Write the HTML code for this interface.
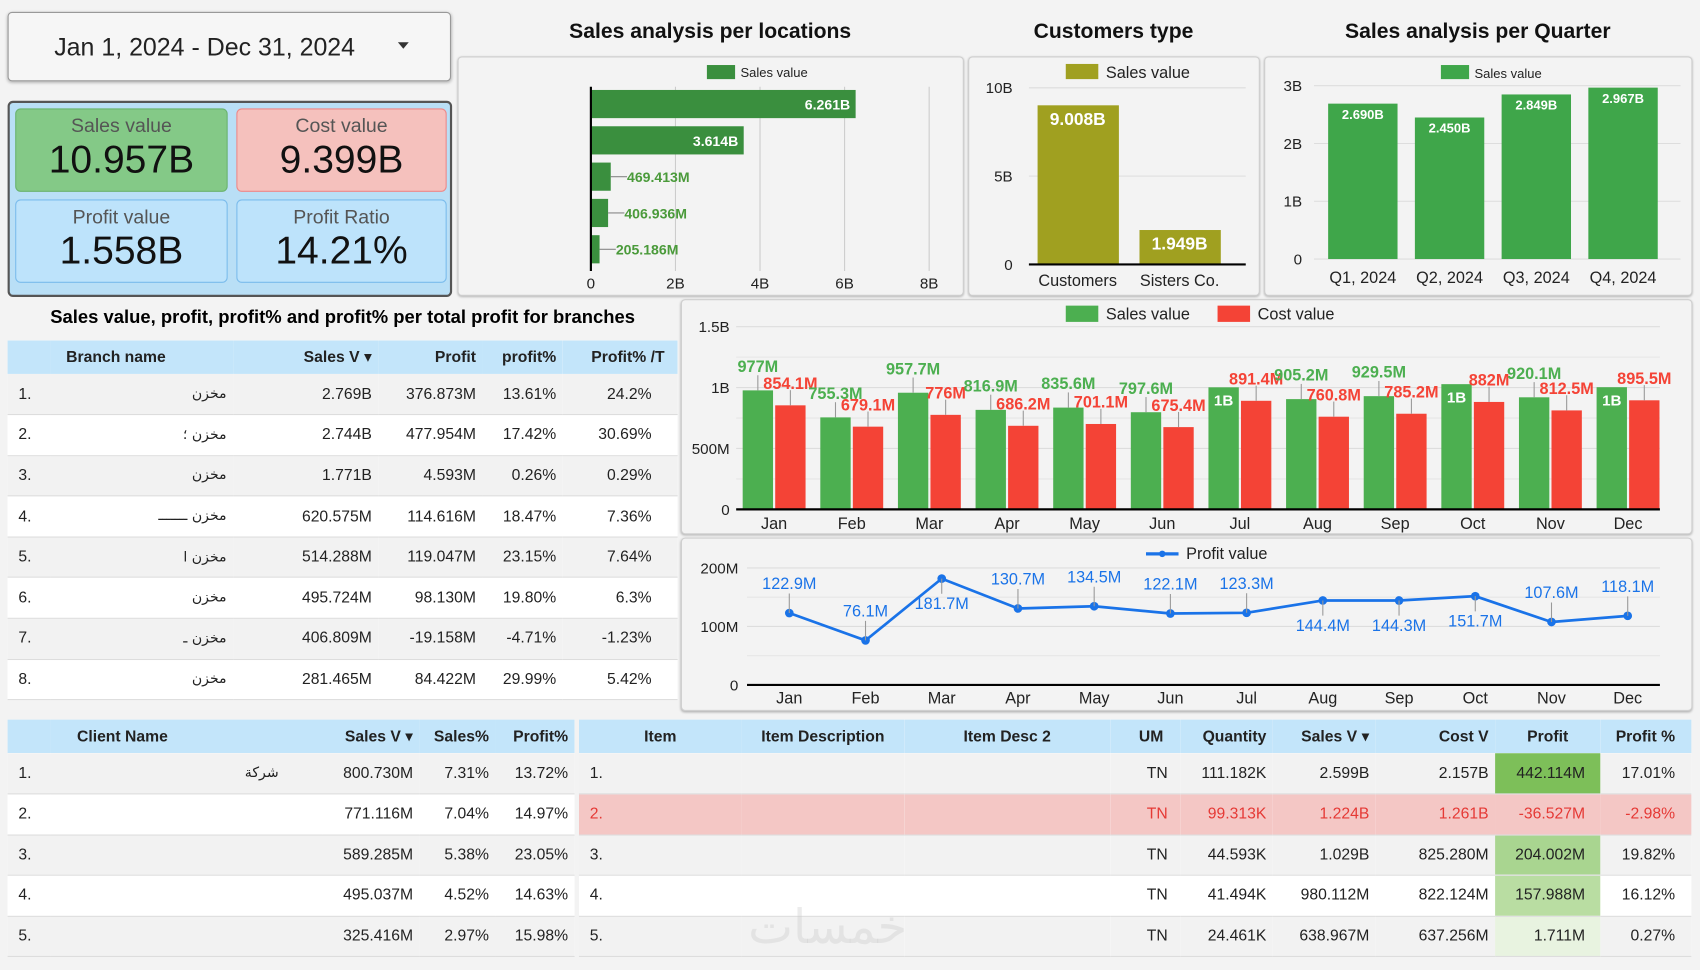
<!DOCTYPE html>
<html><head><meta charset="utf-8">
<style>
body{margin:0;width:1700px;height:970px;overflow:hidden;background:#fff;font-family:"Liberation Sans","DejaVu Sans",sans-serif;}
#root{position:absolute;left:0;top:0;width:1568px;height:895px;transform:scale(1.0842,1.0838);transform-origin:0 0;background:#f3f3f3;}
.abs{position:absolute;}
.box{position:absolute;background:#f3f3f3;border:1px solid #cfcfcf;border-radius:4px;box-shadow:0 1px 2px rgba(0,0,0,.25);}
.title{position:absolute;font-weight:bold;font-size:19.5px;color:#111;text-align:center;}
.kpi{position:absolute;border-radius:5px;text-align:center;}
.kpi .l{font-size:18px;color:#555;margin-top:5px;}
.kpi .v{font-size:36px;color:#111;line-height:40px;}
table{border-collapse:collapse;font-size:14.5px;color:#222;table-layout:fixed;}
td,th{padding:0 6px;white-space:nowrap;overflow:hidden;}
th{background:#c3e5fa;font-weight:bold;font-size:14.5px;height:31px;}
.r{text-align:right}
svg text{font-family:"Liberation Sans","DejaVu Sans",sans-serif;}
.ar{font-family:"DejaVu Sans",sans-serif;font-size:13px;}
</style></head><body>
<div id="root">
<div class="abs" style="left:7px;top:11px;width:407px;height:62px;background:#f6f6f6;border:1px solid #999;border-radius:4px;box-shadow:0 1px 3px rgba(0,0,0,.3);font-size:23px;line-height:62px;color:#222;">
<span style="margin-left:42px">Jan 1, 2024 - Dec 31, 2024</span><span style="position:absolute;left:359px;top:27px;border:5px solid transparent;border-top:6px solid #333;"></span></div>

<div class="abs" style="left:7px;top:93px;width:406px;height:177px;background:#b9dff6;border:2px solid #555;border-radius:5px;"></div>
<div class="kpi" style="left:14px;top:100px;width:194px;height:75px;background:#84c987;border:1px solid #6ab36e;"><div class="l">Sales value</div><div class="v">10.957B</div></div>
<div class="kpi" style="left:218px;top:100px;width:192px;height:75px;background:#f5c1bd;border:1px solid #e88;"><div class="l">Cost value</div><div class="v">9.399B</div></div>
<div class="kpi" style="left:14px;top:184px;width:194px;height:75px;background:#bde3fb;border:1px solid #7bbcec;"><div class="l">Profit value</div><div class="v">1.558B</div></div>
<div class="kpi" style="left:218px;top:184px;width:192px;height:75px;background:#bde3fb;border:1px solid #7bbcec;"><div class="l">Profit Ratio</div><div class="v">14.21%</div></div>

<div class="title" style="left:422px;top:18px;width:466px;">Sales analysis per locations</div>
<div class="title" style="left:893px;top:18px;width:268px;">Customers type</div>
<div class="title" style="left:1166px;top:18px;width:394px;">Sales analysis per Quarter</div>

<div class="box" style="left:422px;top:52px;width:465px;height:219px;"><svg id="loc" width="465" height="219"></svg></div>
<div class="box" style="left:893px;top:52px;width:267px;height:219px;"><svg id="cust" width="267" height="219"></svg></div>
<div class="box" style="left:1166px;top:52px;width:393px;height:219px;"><svg id="qtr" width="393" height="219"></svg></div>

<div class="abs" style="left:7px;top:283px;width:618px;text-align:center;font-weight:bold;font-size:17px;">Sales value, profit, profit% and profit% per total profit for branches</div>
<div class="abs" style="left:7px;top:314px;width:618px;background:#fff;">
<table style="width:618px">
<colgroup><col style="width:40px"><col style="width:168px"><col style="width:134px"><col style="width:96px"><col style="width:74px"><col style="width:106px"></colgroup>
<tr><th></th><th style="text-align:left;padding-left:14px">Branch name</th><th class="r">Sales V ▾</th><th class="r">Profit</th><th class="r">profit%</th><th class="r" style="padding-right:12px">Profit% /T</th></tr>
<tbody id="btb"></tbody></table></div>

<div class="box" style="left:628px;top:276px;width:931px;height:215px;"><svg id="mon" width="931" height="215"></svg></div>
<div class="box" style="left:628px;top:496px;width:931px;height:158px;"><svg id="prof" width="931" height="158"></svg></div>

<div class="abs" style="left:7px;top:664px;width:523px;background:#fff;">
<table style="width:523px"><colgroup><col style="width:40px"><col style="width:250px"><col style="width:90px"><col style="width:70px"><col style="width:73px"></colgroup>
<tr><th></th><th style="text-align:left;padding-left:24px">Client Name</th><th class="r">Sales V ▾</th><th class="r">Sales%</th><th class="r">Profit%</th></tr><tbody id="ctb"></tbody></table></div>
<div class="abs" style="left:534px;top:664px;width:1026px;background:#fff;">
<table style="width:1026px"><colgroup><col style="width:150px"><col style="width:150px"><col style="width:190px"><col style="width:65px"><col style="width:85px"><col style="width:95px"><col style="width:110px"><col style="width:97px"><col style="width:84px"></colgroup>
<tr><th>Item</th><th>Item Description</th><th>Item Desc 2</th><th style="text-align:right;padding-right:16px">UM</th><th class="r">Quantity</th><th class="r">Sales V ▾</th><th class="r">Cost V</th><th>Profit</th><th class="r" style="padding-right:15px">Profit %</th></tr><tbody id="itb"></tbody></table></div>
<div class="abs" style="left:690px;top:830px;font-size:44px;color:rgba(200,200,200,.35);font-family:'DejaVu Sans',sans-serif;">خمسات</div>
</div>
<script>
const NS='http://www.w3.org/2000/svg';
function el(p,t,a,txt){const e=document.createElementNS(NS,t);for(const k in a)e.setAttribute(k,a[k]);if(txt!==undefined)e.textContent=txt;p.appendChild(e);return e;}
// Locations
const locValues=[6.261,3.614,0.469413,0.406936,0.205186];
const locLabels=['6.261B','3.614B','469.413M','406.936M','205.186M'];
const locTicks=[0,2,4,6,8];
const locTickLabels=['0','2B','4B','6B','8B'];
(function(){const s=document.getElementById('loc');const x=v=>122+v*39;
locTicks.forEach((t,i)=>{if(t>0)el(s,'line',{x1:x(t),x2:x(t),y1:27,y2:197,stroke:'#ccc'});el(s,'text',{x:x(t),y:213,'text-anchor':'middle','font-size':14,fill:'#222'},locTickLabels[i]);});
el(s,'rect',{x:229,y:7,width:26,height:13,fill:'#3a8f3e'});el(s,'text',{x:260,y:18,'font-size':12,fill:'#222'},'Sales value');
locValues.forEach((v,i)=>{const y=30+i*33.5;const r=el(s,'rect',{x:122,y:y,width:x(v)-122,height:26,fill:'#3a8f3e'});
if(v>1)el(s,'text',{x:x(v)-5,y:y+18,'text-anchor':'end','font-size':13,'font-weight':'bold',fill:'#fff'},locLabels[i]);else{el(s,'line',{x1:x(v),x2:x(v)+15,y1:y+13,y2:y+13,stroke:'#888'});el(s,'text',{x:x(v)+15,y:y+18,'font-size':13,'font-weight':'bold',fill:'#4a9a3a'},locLabels[i]);}});
el(s,'line',{x1:122,x2:122,y1:27,y2:197,stroke:'#000','stroke-width':2});})();
// Customers
const custCats=['Customers','Sisters Co.'];
const custValues=[9.008,1.949];
const custLabels=['9.008B','1.949B'];
const custTicks=[0,5,10];const custTickLabels=['0','5B','10B'];
(function(){const s=document.getElementById('cust');const y=v=>191-v*16.3;
custTicks.forEach((t,i)=>{el(s,'line',{x1:55,x2:255,y1:y(t),y2:y(t),stroke:'#ddd'});el(s,'text',{x:40,y:y(t)+5,'text-anchor':'end','font-size':14,fill:'#222'},custTickLabels[i]);});
el(s,'rect',{x:89,y:6,width:30,height:14,fill:'#a0a020'});el(s,'text',{x:126,y:19,'font-size':15,fill:'#222'},'Sales value');
custValues.forEach((v,i)=>{const cx=100+i*94;const r=el(s,'rect',{x:cx-37,y:y(v),width:75,height:191-y(v),fill:'#a0a020'});
el(s,'text',{x:cx,y:y(v)+18,'text-anchor':'middle','font-size':16,'font-weight':'bold',fill:'#fff'},custLabels[i]);el(s,'text',{x:cx,y:211,'text-anchor':'middle','font-size':15,fill:'#222'},custCats[i]);});
el(s,'line',{x1:55,x2:255,y1:191,y2:191,stroke:'#000','stroke-width':2});})();
// Quarter
const qCats=['Q1, 2024','Q2, 2024','Q3, 2024','Q4, 2024'];
const qValues=[2.690,2.450,2.849,2.967];
const qLabels=['2.690B','2.450B','2.849B','2.967B'];
const qTicks=[0,1,2,3];const qTickLabels=['0','1B','2B','3B'];
(function(){const s=document.getElementById('qtr');const y=v=>186-v*53.3;
qTicks.forEach((t,i)=>{el(s,'line',{x1:45,x2:383,y1:y(t),y2:y(t),stroke:'#ddd'});el(s,'text',{x:34,y:y(t)+5,'text-anchor':'end','font-size':14,fill:'#222'},qTickLabels[i]);});
el(s,'rect',{x:162,y:7,width:26,height:13,fill:'#3fa64a'});el(s,'text',{x:193,y:19,'font-size':12,fill:'#222'},'Sales value');
qValues.forEach((v,i)=>{const cx=90+i*80;const r=el(s,'rect',{x:cx-32,y:y(v),width:64,height:186-y(v),fill:'#3fa64a'});
el(s,'text',{x:cx,y:y(v)+14,'text-anchor':'middle','font-size':12,'font-weight':'bold',fill:'#fff'},qLabels[i]);el(s,'text',{x:cx,y:208,'text-anchor':'middle','font-size':15,fill:'#222'},qCats[i]);});})();
// Monthly
const months=['Jan','Feb','Mar','Apr','May','Jun','Jul','Aug','Sep','Oct','Nov','Dec'];
const salesM=[977,755.3,957.7,816.9,835.6,797.6,1002,905.2,929.5,1028,920.1,1003];
const salesLbl=['977M','755.3M','957.7M','816.9M','835.6M','797.6M','1B','905.2M','929.5M','1B','920.1M','1B'];
const costM=[854.1,679.1,776,686.2,701.1,675.4,891.4,760.8,785.2,882,812.5,895.5];
const costLbl=['854.1M','679.1M','776M','686.2M','701.1M','675.4M','891.4M','760.8M','785.2M','882M','812.5M','895.5M'];
const monTicks=[0,500,1000,1500];const monTickLabels=['0','500M','1B','1.5B'];
(function(){const s=document.getElementById('mon');const y=v=>193-v*0.1124;const X=i=>85+i*71.6;
monTicks.forEach((t,i)=>{el(s,'line',{x1:50,x2:902,y1:y(t),y2:y(t),stroke:'#ddd'});el(s,'text',{x:44,y:y(t)+5,'text-anchor':'end','font-size':14,fill:'#222'},monTickLabels[i]);});
[250,750,1250].forEach(t=>el(s,'line',{x1:50,x2:902,y1:y(t),y2:y(t),stroke:'#e6e6e6'}));
el(s,'rect',{x:354,y:5,width:30,height:15,fill:'#4caf50'});el(s,'text',{x:391,y:18,'font-size':15,fill:'#222'},'Sales value');
el(s,'rect',{x:494,y:5,width:30,height:15,fill:'#f44336'});el(s,'text',{x:531,y:18,'font-size':15,fill:'#222'},'Cost value');
months.forEach((m,i)=>{const cx=X(i);
const g=el(s,'rect',{x:cx-29,y:y(salesM[i]),width:28,height:193-y(salesM[i]),fill:'#4caf50'});
const r=el(s,'rect',{x:cx+1,y:y(costM[i]),width:28,height:193-y(costM[i]),fill:'#f44336'});
if(salesLbl[i]==='1B')el(s,'text',{x:cx-15,y:y(salesM[i])+17,'text-anchor':'middle','font-size':14,'font-weight':'bold',fill:'#fff'},'1B');
else{el(s,'line',{x1:cx-15,x2:cx-15,y1:y(salesM[i]),y2:y(salesM[i])-14,stroke:'#999'});el(s,'text',{x:cx-15,y:y(salesM[i])-17,'text-anchor':'middle','font-size':15,'font-weight':'bold',fill:'#4caf50'},salesLbl[i]);}
el(s,'line',{x1:cx+15,x2:cx+15,y1:y(costM[i]),y2:y(costM[i])-14,stroke:'#999'});el(s,'text',{x:cx+15,y:y(costM[i])-15,'text-anchor':'middle','font-size':15,'font-weight':'bold',fill:'#f44336'},costLbl[i]);
el(s,'text',{x:cx,y:211,'text-anchor':'middle','font-size':15,fill:'#222'},m);});
el(s,'line',{x1:50,x2:902,y1:193,y2:193,stroke:'#000','stroke-width':2});})();
// Profit line
const profitM=[122.9,76.1,181.7,130.7,134.5,122.1,123.3,144.4,144.3,151.7,107.6,118.1];
const profitLbl=['122.9M','76.1M','181.7M','130.7M','134.5M','122.1M','123.3M','144.4M','144.3M','151.7M','107.6M','118.1M'];
const profitBelow=[0,0,1,0,0,0,0,1,1,1,0,0];
const profTicks=[0,100,200];const profTickLabels=['0','100M','200M'];
(function(){const s=document.getElementById('prof');const y=v=>135-v*0.54;const X=i=>99+i*70.3;
profTicks.forEach((t,i)=>{el(s,'line',{x1:60,x2:902,y1:y(t),y2:y(t),stroke:t?'#ddd':'#000','stroke-width':t?1:2});el(s,'text',{x:52,y:y(t)+5,'text-anchor':'end','font-size':14,fill:'#222'},profTickLabels[i]);});
[50,150].forEach(t=>el(s,'line',{x1:60,x2:902,y1:y(t),y2:y(t),stroke:'#e6e6e6'}));
el(s,'line',{x1:428,x2:458,y1:14,y2:14,stroke:'#1a73e8','stroke-width':3});el(s,'circle',{cx:443,cy:14,r:3,fill:'#1a73e8'});el(s,'text',{x:465,y:19,'font-size':15,fill:'#222'},'Profit value');
const p=el(s,'polyline',{points:profitM.map((v,i)=>X(i)+','+y(v)).join(' '),fill:'none',stroke:'#1a73e8','stroke-width':2.5});
profitM.forEach((v,i)=>{const c=el(s,'circle',{cx:X(i),cy:y(v),r:4,fill:'#1a73e8'});
const ly=profitBelow[i]?y(v)+28:y(v)-22;el(s,'line',{x1:X(i),x2:X(i),y1:y(v),y2:profitBelow[i]?ly-14:ly+4,stroke:'#999'});
el(s,'text',{x:X(i),y:ly,'text-anchor':'middle','font-size':15,fill:'#1a73e8'},profitLbl[i]);
el(s,'text',{x:X(i),y:152,'text-anchor':'middle','font-size':15,fill:'#222'},months[i]);});})();
// Tables
const branches=[['مخزن','2.769B','376.873M','13.61%','24.2%'],['مخزن ؛','2.744B','477.954M','17.42%','30.69%'],['مخزن','1.771B','4.593M','0.26%','0.29%'],['مخزن ـــــــ','620.575M','114.616M','18.47%','7.36%'],['مخزن ا','514.288M','119.047M','23.15%','7.64%'],['مخزن','495.724M','98.130M','19.80%','6.3%'],['مخزن ـ','406.809M','-19.158M','-4.71%','-1.23%'],['مخزن','281.465M','84.422M','29.99%','5.42%']];
let h='';branches.forEach((b,i)=>{h+=`<tr style="height:37.6px;background:${i%2?'#fff':'#f2f2f2'};border-bottom:1px solid #ddd"><td style="padding-left:10px">${i+1}.</td><td class="r ar">${b[0]}</td><td class="r">${b[1]}</td><td class="r">${b[2]}</td><td class="r">${b[3]}</td><td class="r" style="padding-right:24px">${b[4]}</td></tr>`;});
document.getElementById('btb').innerHTML=h;
const clients=[['شركة','800.730M','7.31%','13.72%'],['','771.116M','7.04%','14.97%'],['','589.285M','5.38%','23.05%'],['','495.037M','4.52%','14.63%'],['','325.416M','2.97%','15.98%']];
h='';clients.forEach((c,i)=>{h+=`<tr style="height:37.5px;background:${i%2?'#fff':'#f2f2f2'};border-bottom:1px solid #ddd"><td style="padding-left:10px">${i+1}.</td><td class="r ar" style="padding-right:40px">${c[0]}</td><td class="r">${c[1]}</td><td class="r">${c[2]}</td><td class="r">${c[3]}</td></tr>`;});
document.getElementById('ctb').innerHTML=h;
const items=[['TN','111.182K','2.599B','2.157B','442.114M','17.01%','#7dbf59'],['TN','99.313K','1.224B','1.261B','-36.527M','-2.98%','#f4c7c5'],['TN','44.593K','1.029B','825.280M','204.002M','19.82%','#a9d590'],['TN','41.494K','980.112M','822.124M','157.988M','16.12%','#b9dda2'],['TN','24.461K','638.967M','637.256M','1.711M','0.27%','#e8f3e0']];
h='';items.forEach((c,i)=>{const bad=i==1;const bg=bad?'#f4c7c5':(i%2?'#fff':'#f2f2f2');const col=bad?'#e53935':'#222';
h+=`<tr style="height:37.5px;background:${bg};color:${col};border-bottom:1px solid #ddd"><td style="padding-left:10px">${i+1}.</td><td></td><td></td><td class="r" style="padding-right:12px">${c[0]}</td><td class="r">${c[1]}</td><td class="r">${c[2]}</td><td class="r">${c[3]}</td><td class="r" style="background:${c[6]};padding-right:14px">${c[4]}</td><td class="r" style="padding-right:15px">${c[5]}</td></tr>`;});
document.getElementById('itb').innerHTML=h;
</script>
</body></html>
